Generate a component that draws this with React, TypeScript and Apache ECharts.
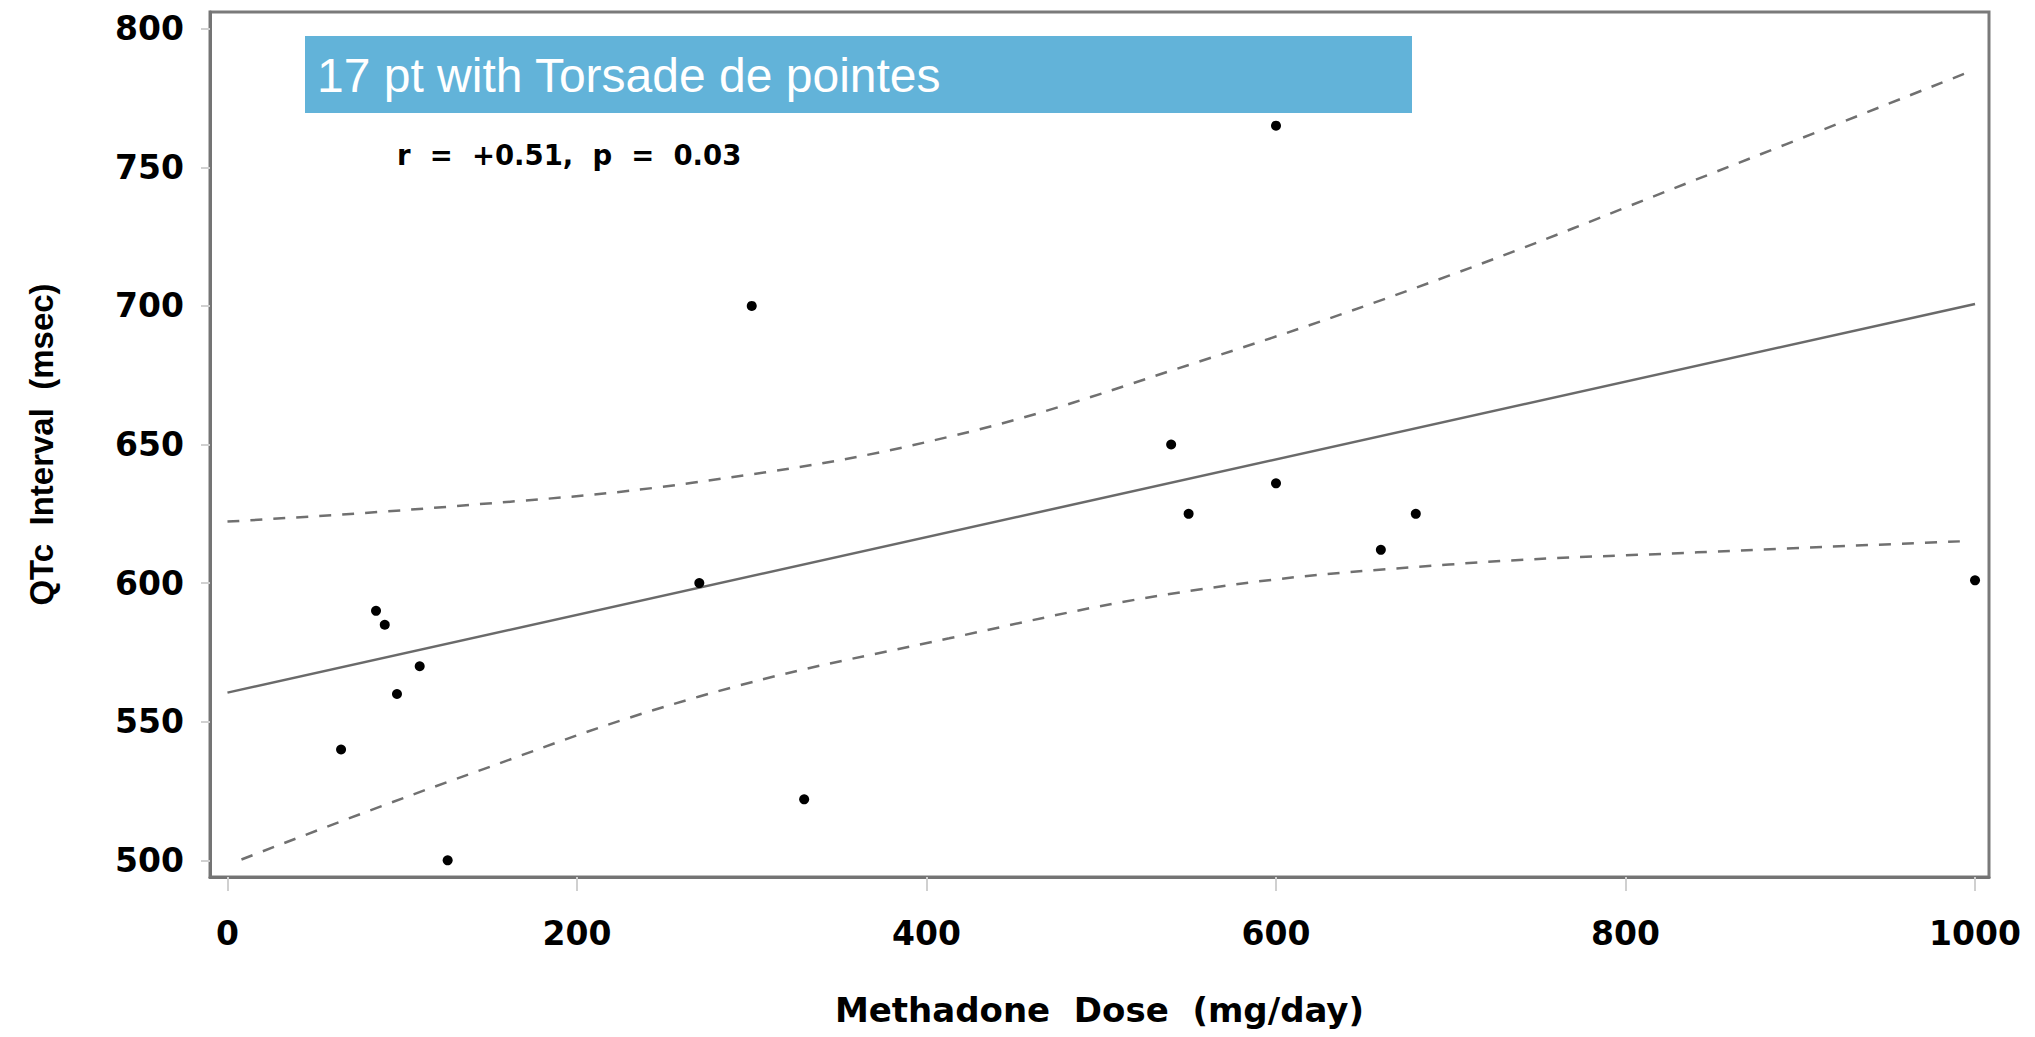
import React, { useEffect, useRef } from "react";
import * as echarts from "echarts";

// Observed patients: methadone dose (mg/day) vs QTc interval (msec)
const doseMgDay = [65, 85, 90, 97, 110, 126, 270, 300, 330, 540, 550, 600, 600, 660, 680, 1000];
const qtcMsec = [540, 590, 585, 560, 570, 500, 600, 700, 522, 650, 625, 765, 636, 612, 625, 601];

// Regression line
const fitDose = [0, 1000];
const fitQtc = [560.5, 700.7];

// Confidence band
const upperDose = [0, 127, 266, 413, 555, 699, 841, 997];
const upperQtc = [622.2, 627.6, 636.2, 652.8, 679.7, 710.9, 745.7, 784.5];
const lowerDose = [8, 127, 270, 413, 555, 699, 841, 997];
const lowerQtc = [500.3, 528.5, 559.1, 580.1, 597.6, 606.7, 611.1, 615.2];

const xTickLabels = [0, 200, 400, 600, 800, 1000];
const yTickLabels = [500, 550, 600, 650, 700, 750, 800];

const titleText = "17 pt with Torsade de pointes";
const statText = "r\u00a0\u00a0=\u00a0\u00a0+0.51,\u00a0\u00a0p\u00a0\u00a0=\u00a0\u00a00.03";
const xTitle = "Methadone\u00a0\u00a0Dose\u00a0\u00a0(mg/day)";
const yTitle = "QTc\u00a0\u00a0Interval\u00a0\u00a0(msec)";

const zip = (a: number[], b: number[]) => a.map((v, i) => [v, b[i]]);

export default function App() {
  const ref = useRef<HTMLDivElement>(null);
  useEffect(() => {
    if (!ref.current) return;
    const chart = echarts.init(ref.current, null, { renderer: "svg" });
    const labelFont = {
      fontFamily: "DejaVu Sans",
      fontWeight: "bold" as const,
      fontSize: 33,
      color: "#000",
    };
    chart.setOption({
      animation: false,
      backgroundColor: "#fff",
      grid: {
        left: 210,
        right: 46,
        top: 12,
        bottom: 160,
        show: true,
        borderColor: "#7a7a7a",
        borderWidth: 3,
        backgroundColor: "transparent",
      },
      xAxis: {
        type: "value",
        min: -10,
        max: 1008,
        minInterval: 200,
        maxInterval: 200,
        splitLine: { show: false },
        axisLine: { show: true, onZero: false, lineStyle: { color: "#747474", width: 3 } },
        axisTick: { show: true, length: 14, lineStyle: { color: "#d0d0d0", width: 2 } },
        axisLabel: {
          ...labelFont,
          margin: 40,
          showMinLabel: false,
          showMaxLabel: false,
          formatter: (v: number) => (xTickLabels.includes(v) ? String(v) : ""),
        },
        name: xTitle,
        nameLocation: "middle",
        nameGap: 116,
        nameTextStyle: { ...labelFont, fontSize: 34 },
      },
      yAxis: {
        type: "value",
        min: 494,
        max: 806,
        minInterval: 50,
        maxInterval: 50,
        splitLine: { show: false },
        axisLine: { show: true, onZero: false, lineStyle: { color: "#747474", width: 3 } },
        axisTick: { show: true, length: 9, lineStyle: { color: "#d0d0d0", width: 2 } },
        axisLabel: {
          ...labelFont,
          margin: 26,
          showMinLabel: false,
          showMaxLabel: false,
          formatter: (v: number) => (yTickLabels.includes(v) ? String(v) : ""),
        },
        name: yTitle,
        nameLocation: "middle",
        nameGap: 152,
        nameTextStyle: {
          fontFamily: "Liberation Sans",
          fontWeight: "bold",
          fontSize: 33,
          color: "#000",
        },
      },
      series: [
        {
          type: "line",
          data: zip(upperDose, upperQtc),
          smooth: 0.4,
          showSymbol: false,
          lineStyle: { color: "#707070", width: 2.5, type: [12, 11] },
          z: 2,
        },
        {
          type: "line",
          data: zip(lowerDose, lowerQtc),
          smooth: 0.4,
          showSymbol: false,
          lineStyle: { color: "#707070", width: 2.5, type: [12, 11] },
          z: 2,
        },
        {
          type: "line",
          data: zip(fitDose, fitQtc),
          showSymbol: false,
          lineStyle: { color: "#6a6a6a", width: 2.5 },
          z: 2,
        },
        {
          type: "scatter",
          data: zip(doseMgDay, qtcMsec),
          symbol: "circle",
          symbolSize: 10,
          itemStyle: { color: "#000", opacity: 1 },
          z: 3,
        },
      ],
      graphic: [
        {
          type: "rect",
          left: 305,
          top: 36,
          shape: { width: 1107, height: 77 },
          style: { fill: "#62b3d9" },
          z: 10,
        },
        {
          type: "text",
          x: 317,
          y: 75,
          style: {
            text: titleText,
            fill: "#fff",
            font: "48px 'Liberation Sans', Arial, sans-serif",
            verticalAlign: "middle",
          },
          z: 11,
        },
        {
          type: "text",
          x: 397,
          y: 155,
          style: {
            text: statText,
            fill: "#000",
            font: "bold 27.5px 'DejaVu Sans', sans-serif",
            verticalAlign: "middle",
          },
          z: 11,
        },
      ],
    });
    return () => chart.dispose();
  }, []);
  return (
    <div
      ref={ref}
      style={{ position: "fixed", left: 0, top: 0, width: 2035, height: 1037 }}
    />
  );
}
